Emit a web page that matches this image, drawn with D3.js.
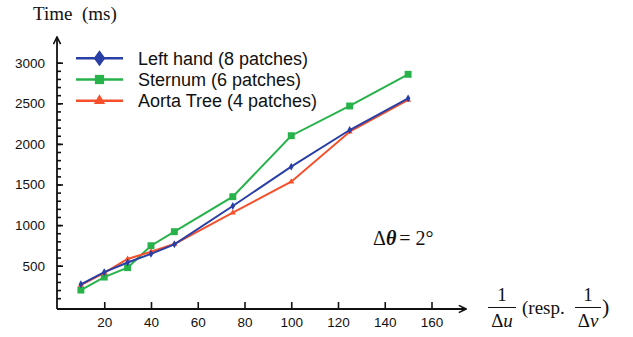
<!DOCTYPE html>
<html lang="en">
<head>
  <meta charset="UTF-8">
  <title>Time vs 1/Δu</title>
  <style>
    body, html { margin: 0; padding: 0; background: white; }
    svg { display: block; }
    .tick text { font-family: "Liberation Sans", Arial, sans-serif; font-size: 13.5px; fill: #111; }
    .legend text { font-family: "Liberation Sans", Arial, sans-serif; font-size: 18px; fill: #111; }
    .serif { font-family: "Liberation Serif", "Times New Roman", serif; fill: #111; }
  </style>
</head>
<body>
  <script src="https://d3js.org/d3.v7.min.js"></script>
  <script>
    // data
    const xValues = [10, 20, 30, 40, 50, 75, 100, 125, 150];
    const leftHand = [271, 420, 540, 645, 763, 1235, 1720, 2171, 2561];
    const sternum = [200, 360, 476, 746, 919, 1350, 2101, 2467, 2857];
    const aortaTree = [262, 412, 583, 672, 767, 1153, 1535, 2150, 2541];
    const xTicks = [20, 40, 60, 80, 100, 120, 140, 160];
    const yTicks = [500, 1000, 1500, 2000, 2500, 3000];
    const seriesNames = ['Left hand (8 patches)', 'Sternum (6 patches)', 'Aorta Tree (4 patches)'];

    const width = 633;
    const height = 337;
    const blue = '#2a3fa6';
    const green = '#27b24a';
    const red = '#f5502c';

    const svg = d3.select('body')
      .append('svg')
      .attr('width', width)
      .attr('height', height);

    const x = d3.scaleLinear().domain([0, 160]).range([57.5, 431.5]);
    const y = d3.scaleLinear().domain([0, 3000]).range([306.3, 62.7]);
    const axisY = 309;
    const axisX = 57;

    // arrow head
    svg.append('defs').append('marker')
      .attr('id', 'arrow')
      .attr('viewBox', '0 0 10 10')
      .attr('refX', 9).attr('refY', 5)
      .attr('markerWidth', 9).attr('markerHeight', 9)
      .attr('markerUnits', 'userSpaceOnUse')
      .attr('orient', 'auto')
      .append('path')
      .attr('d', 'M1,1 L9,5 L1,9')
      .attr('fill', 'none')
      .attr('stroke', '#111')
      .attr('stroke-width', 1.8);

    // y axis (ticks pointing inside)
    const gy = svg.append('g').attr('transform', `translate(${axisX},0)`);
    gy.call(d3.axisLeft(y).tickValues(d3.range(100, 3001, 100)).tickSize(-4).tickFormat(''))
      .call(g => g.select('.domain').remove());
    gy.append('g').call(d3.axisLeft(y).tickValues(yTicks).tickSize(-6).tickPadding(12).tickFormat(d3.format('d')))
      .call(g => g.select('.domain').remove());
    gy.selectAll('line').attr('stroke', '#111').attr('stroke-width', 1.6);

    // x axis (ticks pointing up)
    const gx = svg.append('g').attr('transform', `translate(0,${axisY})`);
    gx.call(d3.axisBottom(x).tickValues(xTicks).tickSize(-7).tickPadding(8).tickFormat(d3.format('d')))
      .call(g => g.select('.domain').remove());
    gx.selectAll('line').attr('stroke', '#111').attr('stroke-width', 1.6);

    svg.append('line')
      .attr('x1', axisX).attr('y1', axisY).attr('x2', axisX).attr('y2', 37)
      .attr('stroke', '#111').attr('stroke-width', 1.8).attr('marker-end', 'url(#arrow)');
    svg.append('line')
      .attr('x1', axisX).attr('y1', axisY).attr('x2', 466).attr('y2', axisY)
      .attr('stroke', '#111').attr('stroke-width', 1.8).attr('marker-end', 'url(#arrow)');

    const line = d3.line().x((d, i) => x(xValues[i])).y(d => y(d));

    const series = [
      { name: seriesNames[1], values: sternum, color: green, symbol: d3.symbolSquare, size: 48, legendSize: 85 },
      { name: seriesNames[2], values: aortaTree, color: red, symbol: d3.symbolTriangle, size: 16, legendSize: 55 },
      { name: seriesNames[0], values: leftHand, color: blue, symbol: d3.symbolDiamond, size: 18, legendSize: 75 }
    ];

    series.forEach(s => {
      svg.append('path')
        .datum(s.values)
        .attr('d', line)
        .attr('fill', 'none')
        .attr('stroke', s.color)
        .attr('stroke-width', 2);
      svg.append('g').selectAll('path')
        .data(s.values)
        .enter()
        .append('path')
        .attr('transform', (d, i) => `translate(${x(xValues[i])},${y(d)})`)
        .attr('d', d3.symbol().type(s.symbol).size(s.size))
        .attr('fill', s.color);
    });

    // legend
    const legendOrder = [series[2], series[0], series[1]];
    const legend = svg.append('g').attr('class', 'legend');
    legendOrder.forEach((s, i) => {
      const ly = 58.3 + i * 21.2;
      legend.append('line')
        .attr('x1', 76).attr('x2', 123).attr('y1', ly).attr('y2', ly)
        .attr('stroke', s.color).attr('stroke-width', 2.4);
      legend.append('path')
        .attr('transform', `translate(99.5,${ly})` + (s.symbol === d3.symbolDiamond ? ' scale(1.25,1)' : ''))
        .attr('d', d3.symbol().type(s.symbol).size(s.legendSize))
        .attr('fill', s.color);
      legend.append('text')
        .attr('x', 138).attr('y', ly + 6.5)
        .text(s.name);
    });

    // axis titles
    svg.append('text')
      .attr('class', 'serif')
      .attr('x', 33).attr('y', 20)
      .attr('font-size', 19)
      .attr('xml:space', 'preserve')
      .text('Time  (ms)');

    const ann = svg.append('text')
      .attr('class', 'serif')
      .attr('x', 373).attr('y', 245)
      .attr('font-size', 20);
    ann.append('tspan').text('Δ');
    ann.append('tspan').attr('font-weight', 'bold').attr('font-style', 'italic').text('θ');
    ann.append('tspan').attr('dx', 3).text('= 2°');

    // x title: 1/Δu (resp. 1/Δv)
    const xt = svg.append('g').attr('class', 'serif').attr('font-size', 19);
    xt.append('text').attr('x', 502).attr('y', 301).attr('text-anchor', 'middle').text('1');
    xt.append('line').attr('x1', 488).attr('x2', 516).attr('y1', 307.5).attr('y2', 307.5)
      .attr('stroke', '#111').attr('stroke-width', 1);
    const den1 = xt.append('text').attr('x', 502).attr('y', 327).attr('text-anchor', 'middle');
    den1.append('tspan').text('Δ');
    den1.append('tspan').attr('font-style', 'italic').text('u');
    xt.append('text').attr('x', 522).attr('y', 314).text('(resp.');
    xt.append('text').attr('x', 588).attr('y', 301).attr('text-anchor', 'middle').text('1');
    xt.append('line').attr('x1', 575).attr('x2', 601).attr('y1', 307.5).attr('y2', 307.5)
      .attr('stroke', '#111').attr('stroke-width', 1);
    const den2 = xt.append('text').attr('x', 588).attr('y', 327).attr('text-anchor', 'middle');
    den2.append('tspan').text('Δ');
    den2.append('tspan').attr('font-style', 'italic').text('v');
    xt.append('text').attr('x', 602).attr('y', 314).attr('font-size', 22).text(')');
  </script>
</body>
</html>
